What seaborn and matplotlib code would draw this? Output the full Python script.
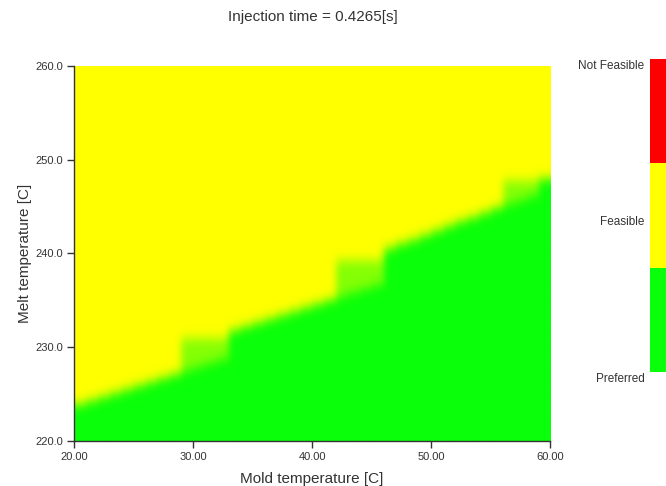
import numpy as np
import matplotlib
matplotlib.use('Agg')
import matplotlib.pyplot as plt
from matplotlib.colors import ListedColormap, LinearSegmentedColormap
import seaborn as sns

sns.set_theme(style='ticks')
plt.rcParams['font.family'] = ['Liberation Sans', 'DejaVu Sans']

# feasibility map: one column per 1 C of mold temperature (cell centres)
mold_temp = [20.5, 21.5, 22.5, 23.5, 24.5, 25.5, 26.5, 27.5, 28.5, 29.5,
             30.5, 31.5, 32.5, 33.5, 34.5, 35.5, 36.5, 37.5, 38.5, 39.5,
             40.5, 41.5, 42.5, 43.5, 44.5, 45.5, 46.5, 47.5, 48.5, 49.5,
             50.5, 51.5, 52.5, 53.5, 54.5, 55.5, 56.5, 57.5, 58.5, 59.5]
# melt temperature below which the point is "Preferred"
preferred_top = [223.9, 224.3, 224.7, 225.1, 225.5, 225.9, 226.3, 226.7, 227.1, 227.5,
                 227.9, 228.3, 228.7, 231.8, 232.2, 232.6, 233.0, 233.4, 233.8, 234.2,
                 234.6, 235.0, 235.4, 235.8, 236.2, 236.6, 240.5, 241.0, 241.4, 241.9,
                 242.4, 242.9, 243.4, 243.8, 244.3, 244.8, 245.2, 245.6, 246.1, 247.9]
# top of the half blended patches (same as preferred_top where there is none)
blend_top = [223.9, 224.3, 224.7, 225.1, 225.5, 225.9, 226.3, 226.7, 227.1, 230.9,
             230.9, 230.9, 230.9, 231.8, 232.2, 232.6, 233.0, 233.4, 233.8, 234.2,
             234.6, 235.0, 239.2, 239.2, 239.2, 239.2, 240.5, 241.0, 241.4, 241.9,
             242.4, 242.9, 243.4, 243.8, 244.3, 244.8, 247.7, 247.7, 247.7, 247.9]

zone_names = ['Not Feasible', 'Feasible', 'Preferred']
zone_colors = ['#ff0000', '#ffff00', '#0aff0a']

title = 'Injection time = 0.4265[s]'

#build a fine grid (0.1 C), 0 = preferred (green), 1 = feasible (yellow)
step = 0.1
melt_c = np.arange(220 + step / 2, 260, step)[:, None]
pref = np.repeat(preferred_top, 10)[None, :]
blend = np.repeat(blend_top, 10)[None, :]
grid = 0.5 * (melt_c > pref) + 0.5 * (melt_c > blend)

#soften the edges like the original contour renderer does
def smooth(a, sigma, axis):
    k = np.arange(-3 * sigma, 3 * sigma + 1)
    k = np.exp(-0.5 * (k / sigma) ** 2)
    k = k / k.sum()
    pad = len(k) // 2
    a = np.moveaxis(a, axis, -1)
    ap = np.pad(a, [(0, 0), (pad, pad)], mode='edge')
    out = np.array([np.convolve(r, k, mode='valid') for r in ap])
    return np.moveaxis(out, -1, axis)
grid = smooth(grid, 3, 1)
grid = smooth(grid, 6, 0)

fig = plt.figure(figsize=(6.66, 4.86), dpi=100)
ax = fig.add_axes([0.111, 0.0926, 0.715, 0.772])
cmap = LinearSegmentedColormap.from_list('gy', [zone_colors[2], zone_colors[1]])
ax.imshow(grid, origin='lower', extent=[20, 60, 220, 260], cmap=cmap, vmin=0, vmax=1,
          interpolation='bilinear', aspect='auto')
ax.set_xlim(20, 60)
ax.set_ylim(220, 260)
ax.set_xticks([20, 30, 40, 50, 60])
ax.set_xticklabels(['%.2f' % v for v in [20, 30, 40, 50, 60]])
ax.set_yticks([220, 230, 240, 250, 260])
ax.set_yticklabels(['%.1f' % v for v in [220, 230, 240, 250, 260]])
ax.tick_params(labelsize=8, colors='#333333', length=5, width=1, pad=3)
sns.despine(ax=ax)
for s in ['left', 'bottom']:
    ax.spines[s].set_color('#333333')
    ax.spines[s].set_linewidth(1)
ax.set_xlabel('Mold temperature [C]', fontsize=11, color='#333333', labelpad=7)
ax.set_ylabel('Melt temperature [C]', fontsize=11, color='#333333', labelpad=2)
fig.text(0.47, 0.965, title, ha='center', va='center', fontsize=11, color='#333333')

#legend bar on the right
cax = fig.add_axes([0.976, 0.224, 0.03, 0.655])
sns.heatmap(np.array([[0], [1], [2]]), cmap=ListedColormap(zone_colors), cbar=False,
            ax=cax, xticklabels=False, yticklabels=False)
cax.set_yticks([0.05, 1.55, 3.05])
cax.set_yticklabels(zone_names, rotation=0)
cax.tick_params(axis='y', length=0, labelsize=8.5, colors='#333333', pad=4)

plt.savefig('out.png', dpi=100)
